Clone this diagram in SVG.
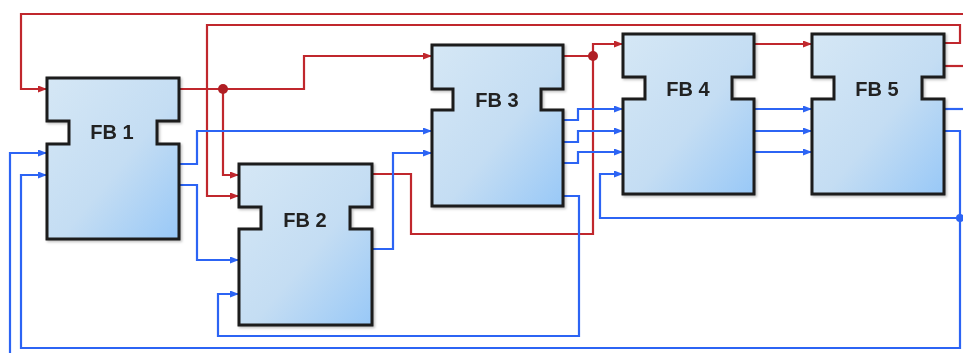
<svg xmlns="http://www.w3.org/2000/svg" width="963" height="353" viewBox="0 0 963 353">
<style>
.box{fill:url(#g);stroke:#1a1a1a;stroke-width:3;stroke-linejoin:miter}
.lbl{font-family:"Liberation Sans",Arial,sans-serif;font-weight:bold;font-size:20px;fill:#222;text-anchor:middle}
.r{fill:none;stroke:#c0272d;stroke-width:2.2}
.b{fill:none;stroke:#2c64f4;stroke-width:2.2}
.ra{marker-end:url(#ar)}
.ba{marker-end:url(#ab)}
</style>
<defs>
<linearGradient id="g" x1="0" y1="0" x2="1" y2="1">
<stop offset="0" stop-color="#d5e7f5"/>
<stop offset="0.55" stop-color="#c4ddf3"/>
<stop offset="1" stop-color="#98c8f7"/>
</linearGradient>
<filter id="sh" x="-5%" y="-5%" width="115%" height="115%">
<feDropShadow dx="1.5" dy="1.5" stdDeviation="1.2" flood-color="#000" flood-opacity="0.25"/>
</filter>
<marker id="ar" markerUnits="userSpaceOnUse" markerWidth="9" markerHeight="7" refX="9" refY="3.5" orient="auto">
<path d="M0,0 L9,3.5 L0,7 Z" fill="#c0272d"/>
</marker>
<marker id="ab" markerUnits="userSpaceOnUse" markerWidth="9" markerHeight="7" refX="9" refY="3.5" orient="auto">
<path d="M0,0 L9,3.5 L0,7 Z" fill="#2c64f4"/>
</marker>
</defs>
<rect width="963" height="353" fill="#fff"/>
<g id="connectors">
<path class="r" d="M944,66 H963"/>
<path class="r ra" d="M963,14 H21 V89 H47"/>
<path class="r ra" d="M944,43 H960 V25 H207 V196 H239"/>
<path class="r ra" d="M179,89 H304 V56 H432"/>
<path class="r ra" d="M223,89 V175 H239"/>
<path class="r" d="M372,174 H411 V234 H593 V56"/>
<path class="r ra" d="M563,56 H593 V44 H623"/>
<path class="r ra" d="M754,44 H812"/>
<circle cx="223" cy="89" r="5" fill="#b01e24"/>
<circle cx="593" cy="56" r="5" fill="#b01e24"/>
<path class="b ba" d="M179,164 H197 V131 H432"/>
<path class="b ba" d="M179,185 H197 V260 H239"/>
<path class="b ba" d="M372,249 H393 V153 H432"/>
<path class="b ba" d="M563,196 H579 V336 H218 V294 H239"/>
<path class="b ba" d="M563,120 H578 V109 H623"/>
<path class="b ba" d="M563,142 H578 V131 H623"/>
<path class="b ba" d="M563,163 H578 V152 H623"/>
<path class="b ba" d="M960,218 H600 V174 H623"/>
<path class="b ba" d="M754,109 H812"/>
<path class="b ba" d="M754,131 H812"/>
<path class="b ba" d="M754,152 H812"/>
<path class="b" d="M944,109 H963"/>
<path class="b ba" d="M944,131 H960 V348 H21 V175 H47"/>
<path class="b ba" d="M10,353 V153 H47"/>
<circle cx="960" cy="218" r="4" fill="#2c64f4"/>
</g>
<g id="fb1" filter="url(#sh)">
<path class="box" d="M47,78 H179 V121 H157 V144 H179 V239 H47 V144 H69 V121 H47 Z"/>
<text class="lbl" x="112" y="139">FB 1</text>
</g>
<g id="fb2" filter="url(#sh)">
<path class="box" d="M239,164 H372 V207 H350 V229 H372 V325 H239 V229 H261 V207 H239 Z"/>
<text class="lbl" x="305" y="227">FB 2</text>
</g>
<g id="fb3" filter="url(#sh)">
<path class="box" d="M432,45 H563 V89 H541 V110 H563 V206 H432 V110 H453 V89 H432 Z"/>
<text class="lbl" x="497" y="107">FB 3</text>
</g>
<g id="fb4" filter="url(#sh)">
<path class="box" d="M623,34 H754 V77 H732 V99 H754 V194 H623 V99 H645 V77 H623 Z"/>
<text class="lbl" x="688" y="96">FB 4</text>
</g>
<g id="fb5" filter="url(#sh)">
<path class="box" d="M812,34 H944 V77 H922 V99 H944 V194 H812 V99 H834 V77 H812 Z"/>
<text class="lbl" x="877" y="96">FB 5</text>
</g>
</svg>
